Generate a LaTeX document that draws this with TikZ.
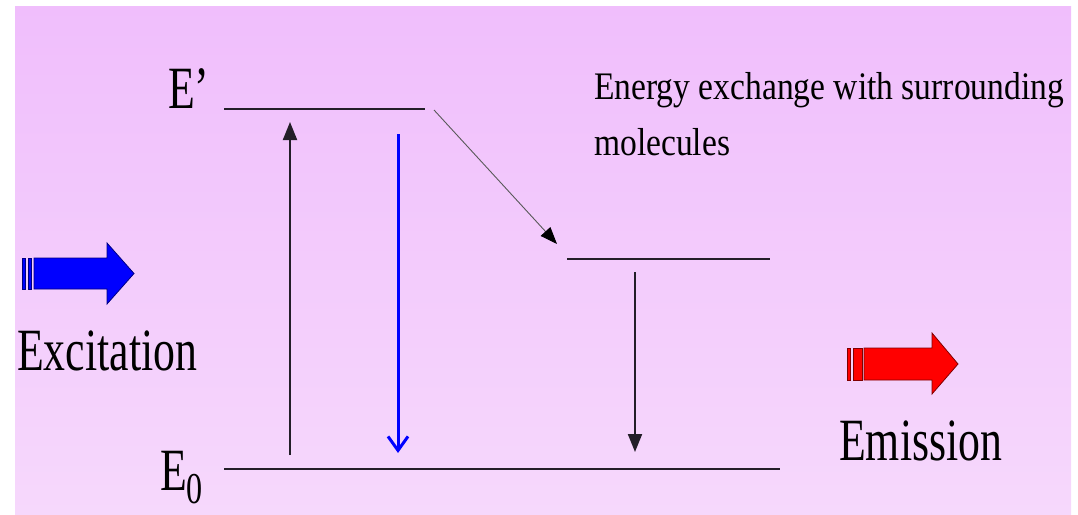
\documentclass[tikz,border=0pt]{standalone}
\usepackage{fontspec}
\setmainfont{Liberation Serif}
\usetikzlibrary{arrows.meta}
\definecolor{bgtop}{RGB}{240,190,252}
\definecolor{bgbot}{RGB}{246,216,252}
\definecolor{darkline}{RGB}{35,30,40}
\newcommand{\bigtxt}[1]{\scalebox{0.73}[1]{\fontsize{60}{60}\selectfont #1}}
\newcommand{\smalltxt}[1]{\scalebox{0.86}[1]{\fontsize{39}{39}\selectfont #1}}
\begin{document}
\begin{tikzpicture}[x=1pt,y=-1pt,
  level/.style={line width=2.2pt, draw=darkline},
  trans/.style={line width=2pt, draw=darkline, -{Triangle[length=18pt,width=14pt]}},
  lbl/.style={inner sep=0pt, anchor=base west, text=black},
  fatblue/.style={fill=blue, draw=blue!50!black, line width=0.8pt},
  fatred/.style={fill=red, draw=red!50!black, line width=0.8pt},
]
\useasboundingbox (0,0) rectangle (1078,514);
\shade[top color=bgtop, bottom color=bgbot] (15,6) rectangle (1071,514);

% energy levels
\coordinate (Ep-l) at (224,109); \coordinate (Ep-r) at (425,109);
\coordinate (Ev-l) at (567,259); \coordinate (Ev-r) at (770,259);
\coordinate (E0-l) at (224,469); \coordinate (E0-r) at (780,469);
\draw[level] (Ep-l) -- (Ep-r);
\draw[level] (Ev-l) -- (Ev-r);
\draw[level] (E0-l) -- (E0-r);

% labels
\node[lbl] (Eprime) at (168,108) {\bigtxt{E’}};
\node[lbl] (Ezero) at (160,490) {\bigtxt{E\raisebox{-13pt}{\fontsize{44}{44}\selectfont 0}}};
\node[lbl] (exch1) at (594,99) {\smalltxt{Energy exchange with surrounding}};
\node[lbl] (exch2) at (594,155) {\smalltxt{molecules}};
\node[lbl] (excit) at (17,370) {\bigtxt{Excitation}};
\node[lbl] (emiss) at (839,460) {\bigtxt{Emission}};

% transitions
\coordinate (up-s) at (290,455); \coordinate (up-e) at (290,122);
\draw[trans] (up-s) -- (up-e);
\coordinate (bl-s) at (398,134); \coordinate (bl-e) at (398,453);
\draw[line width=3pt, blue, -{Straight Barb[length=14pt,width=20pt]}] (bl-s) -- (bl-e);
\coordinate (dg-s) at (434,110); \coordinate (dg-e) at (557,244);
\draw[line width=0.9pt, draw=black!65, -{Triangle[length=17pt,width=13pt,color=black]}] (dg-s) -- (dg-e);
\coordinate (dn-s) at (635,272); \coordinate (dn-e) at (635,452);
\draw[trans] (dn-s) -- (dn-e);

% excitation fat arrow
\draw[fatblue] (22.5,258) rectangle (25.5,289);
\draw[fatblue] (28,258) rectangle (31.5,289);
\draw[fatblue] (34,258) -- (107,258) -- (107,243) -- (134,273.5) -- (107,304) -- (107,289) -- (34,289) -- cycle;

% emission fat arrow
\draw[fatred] (847,348) rectangle (850.5,380);
\draw[fatred] (853,348) rectangle (862,380);
\draw[fatred] (864,348) -- (932,348) -- (932,333) -- (958,364) -- (932,394) -- (932,380) -- (864,380) -- cycle;
\end{tikzpicture}
\end{document}
